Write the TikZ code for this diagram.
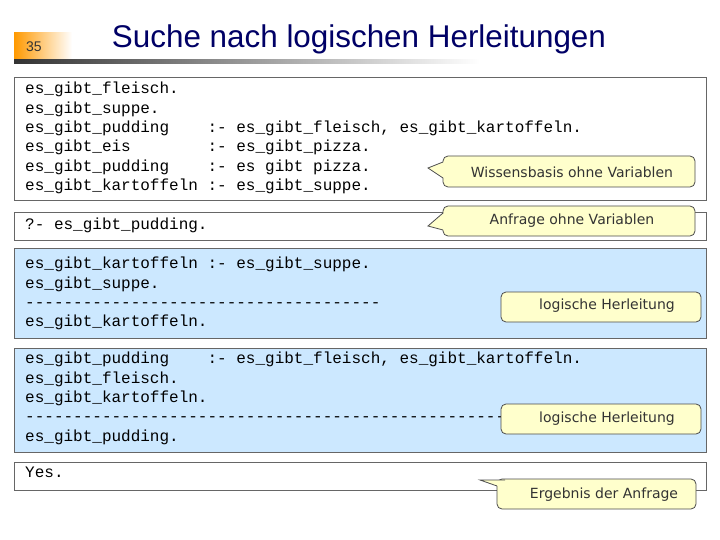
\documentclass[tikz,border=0pt]{standalone}
\usepackage{fontspec}
\setmainfont{Liberation Sans}
\setmonofont{Liberation Mono}
\newfontfamily\callfont{DejaVu Sans}
\definecolor{boxblue}{RGB}{204,232,255}
\definecolor{callyellow}{RGB}{255,255,204}
\begin{document}
\begin{tikzpicture}[x=1pt,y=-1pt,
  box/.style={draw=black!60,line width=0.8pt},
  code/.style={anchor=north west,align=left,inner sep=0pt,font=\ttfamily\fontsize{16}{19.4}\selectfont},
  call/.style={draw=black!70,fill=callyellow,line width=0.8pt,rounded corners=5pt},
  ctext/.style={font=\callfont\fontsize{14}{16}\selectfont,text=black!80}]
\useasboundingbox (0,0) rectangle (720,540);
\fill[white] (0,0) rectangle (720,540);
% header
\shade[left color=orange!80!yellow,right color=white] (14,33) rectangle (72,60);
\node[font=\fontsize{14}{16}\selectfont,text=black!80] (num) at (34,47) {35};
\shade[left color=black!80,right color=white] (14,60) rectangle (480,64);
\node[font=\fontsize{31.4}{34}\selectfont,text=blue!40!black] (title) at (359,39) {Suche nach logischen Herleitungen};
% boxes
\draw[box,fill=white] (14,77) rectangle (706,200);
\node[code] (kb) at (25,82) {es\_gibt\_fleisch.\\es\_gibt\_suppe.\\
es\_gibt\_pudding~~~~:- es\_gibt\_fleisch, es\_gibt\_kartoffeln.\\
es\_gibt\_eis~~~~~~~~:- es\_gibt\_pizza.\\
es\_gibt\_pudding~~~~:- es gibt pizza.\\
es\_gibt\_kartoffeln :- es\_gibt\_suppe.};
\draw[box,fill=white] (14,212) rectangle (706,240);
\node[code] (q) at (25,218) {?- es\_gibt\_pudding.};
\draw[box,fill=boxblue] (14,248) rectangle (706,338);
\node[code] (d1) at (25,257) {es\_gibt\_kartoffeln :- es\_gibt\_suppe.\\es\_gibt\_suppe.\\-------------------------------------\\es\_gibt\_kartoffeln.};
\draw[box,fill=boxblue] (14,348) rectangle (706,452);
\node[code] (d2) at (25,352) {es\_gibt\_pudding~~~~:- es\_gibt\_fleisch, es\_gibt\_kartoffeln.\\es\_gibt\_fleisch.\\es\_gibt\_kartoffeln.\\----------------------------------------------------\\es\_gibt\_pudding.};
\draw[box,fill=white] (14,462) rectangle (706,490);
\node[code] (y) at (25,467) {Yes.};
% callouts
\draw[call] (443,156) rectangle (695,187);
\fill[callyellow] (444,162) -- (428,168) -- (444,178) -- cycle;
\draw[black!70,line width=0.8pt] (443,162) -- (428,168) -- (443,178);
\node[ctext] (c1) at (572,172) {Wissensbasis ohne Variablen};
\draw[call] (443,206) rectangle (695,236);
\fill[callyellow] (444,213) -- (428,226) -- (444,230) -- cycle;
\draw[black!70,line width=0.8pt] (443,213) -- (428,226) -- (443,230);
\node[ctext] (c2) at (572,221) {Anfrage ohne Variablen};
\draw[call] (501,292) rectangle (701,322);
\node[ctext] (c3) at (607,306) {logische Herleitung};
\draw[call] (501,404) rectangle (701,434);
\node[ctext] (c4) at (607,419) {logische Herleitung};
\draw[call] (497,479) rectangle (696,509);
\fill[callyellow] (498,486) -- (480,480) -- (510,480) -- cycle;
\draw[black!70,line width=0.8pt] (497,486) -- (480,480) -- (505,480);
\node[ctext] (c5) at (604,495) {Ergebnis der Anfrage};
\end{tikzpicture}
\end{document}
